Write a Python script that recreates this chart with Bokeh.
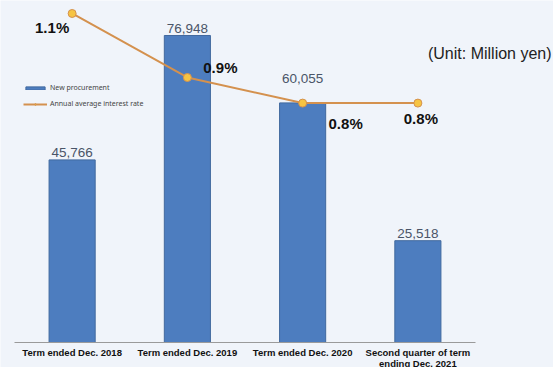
import numpy as np
from bokeh.plotting import figure
from bokeh.models import ColumnDataSource, Range1d, Label, Legend, LegendItem
from bokeh.core.properties import value
from bokeh.embed import file_html
from bokeh.resources import INLINE

# ---- data ----
categories = ["Term ended Dec. 2018", "Term ended Dec. 2019", "Term ended Dec. 2020",
              "Second quarter of term\nending Dec. 2021"]
procurement = [45766, 76948, 60055, 25518]          # million yen
interest_rate = [1.10, 0.90, 0.82, 0.82]             # annual average, %
unit_text = "(Unit: Million yen)"

BG = "#F0F4FA"
BAR = "#4D7DBF"
BAR_EDGE = "#41699E"
LINE = "#D4914E"
DOT = "#F6C443"
FONT = "Liberation Sans"

x = np.arange(len(categories))
n = len(categories)

# layout in pixels
W, H = 553, 367
PX_PER_CAT = 115.25
LEFT_PAD = 14        # px left of first category slot
BOTTOM_PAD = 25      # px below baseline for category labels
VMAX_PX = 342        # px from baseline to top
x0 = -0.5 - LEFT_PAD / PX_PER_CAT
x1 = x0 + W / PX_PER_CAT
v_top = 85720
v_bot = -v_top * BOTTOM_PAD / VMAX_PX
r_top, r_base = 1.1406, 0.0719
r_bot = r_base - (r_top - r_base) * BOTTOM_PAD / VMAX_PX

p = figure(width=W, height=H, output_backend="svg", toolbar_location=None,
           x_axis_type=None, y_axis_type=None,
           x_range=Range1d(x0, x1), y_range=Range1d(v_bot, v_top),
           min_border=0)
p.extra_y_ranges = {"rate": Range1d(r_bot, r_top)}
p.background_fill_color = BG
p.border_fill_color = BG
p.outline_line_color = None
p.grid.visible = False

src = ColumnDataSource(dict(
    x=x, v=procurement, vlab=[f"{v:,}" for v in procurement],
    r=interest_rate, rlab=[f"{r:.1f}%" for r in interest_rate],
    cat=categories, zero=[0] * n,
    vdy=[-7, -7, -24, -7],
    rdx=[-20, 33, 43, 3], rdy=[14, -10, 20, 15],
))

bars = p.vbar(x="x", top="v", width=0.4, source=src, fill_color=BAR, line_color=BAR_EDGE, line_width=1)

# category baseline (axis line) spanning the category slots
p.segment(x0=[-0.5], x1=[n - 0.5], y0=[0], y1=[0], line_color="#9A9A9A", line_width=1.2)

ln = p.line(x="x", y="r", source=src, y_range_name="rate", line_color=LINE, line_width=2)
dots = p.scatter(x="x", y="r", source=src, y_range_name="rate", size=8,
                 fill_color=DOT, line_color=LINE, line_width=1)

p.text(x="x", y="v", text="vlab", source=src, y_offset="vdy",
       text_align="center", text_baseline="alphabetic",
       text_font=value(FONT), text_font_size="13.5px", text_color="#4A5568")
p.text(x="x", y="r", text="rlab", source=src, y_range_name="rate", x_offset="rdx", y_offset="rdy",
       text_align="center", text_baseline="middle",
       text_font=value(FONT), text_font_size="15px", text_font_style="bold",
       text_color="#111111")

# category labels
p.text(x="x", y="zero", text="cat", source=src, y_offset=4,
       text_align="center", text_baseline="top", text_line_height=1.0,
       text_font=value(FONT), text_font_size="9.5px", text_font_style="bold",
       text_color="#111111")

p.add_layout(Label(x=4.16, y=0.975, y_range_name="rate", text=unit_text, text_align="right",
                   text_baseline="middle", text_font=FONT, text_font_size="16px",
                   text_color="#222222"))

legend = Legend(items=[LegendItem(label="New procurement", renderers=[bars]),
                       LegendItem(label="Annual average interest rate", renderers=[ln, dots])],
                location=(23, 259), background_fill_alpha=0, border_line_color=None,
                label_text_font="Noto Sans", label_text_font_size="7px", label_text_color="#444444",
                glyph_width=24, glyph_height=4, label_height=8, spacing=7, padding=2, margin=0,
                label_standoff=3)
p.add_layout(legend)

open("out.html", "w").write(file_html(p, INLINE))
